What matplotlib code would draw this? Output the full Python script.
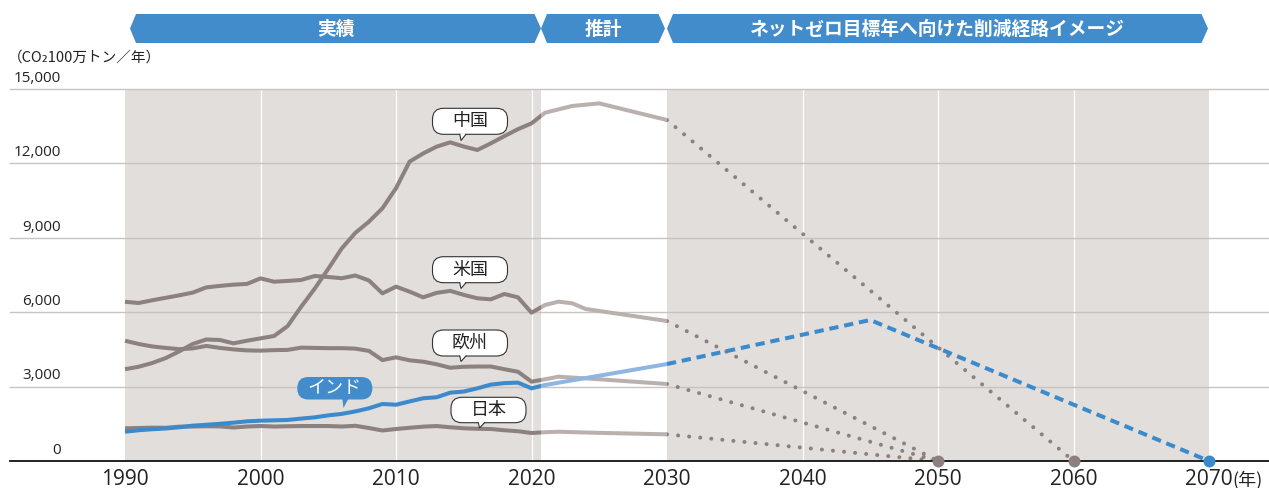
import matplotlib
matplotlib.use("Agg")
import matplotlib.pyplot as plt
from matplotlib.patches import Polygon, FancyBboxPatch, Rectangle
import numpy as np

# ---------------- data ----------------
years_hist = list(range(1990, 2022))
china_hist = [3700, 3800, 3950, 4150, 4420, 4720, 4900, 4880, 4745, 4850,
              4945, 5040, 5440, 6220, 6950, 7750, 8575, 9200, 9650, 10190,
              11000, 12070, 12400, 12675, 12850, 12680, 12540, 12810, 13100, 13380,
              13615, 14045]
usa_hist = [6420, 6370, 6480, 6580, 6680, 6790, 7000, 7060, 7110, 7140,
            7365, 7230, 7260, 7300, 7460, 7420, 7370, 7480, 7280, 6760,
            7030, 6830, 6600, 6780, 6860, 6700, 6560, 6520, 6735, 6600,
            5980, 6290]
europe_hist = [4850, 4720, 4620, 4560, 4510, 4540, 4640, 4560, 4500, 4460,
               4450, 4470, 4480, 4570, 4560, 4550, 4550, 4530, 4440, 4070,
               4180, 4060, 4005, 3900, 3760, 3800, 3810, 3810, 3700, 3600,
               3200, 3295]
japan_hist = [1318, 1330, 1345, 1340, 1385, 1390, 1400, 1395, 1350, 1390,
              1410, 1390, 1400, 1410, 1410, 1410, 1390, 1420, 1330, 1230,
              1290, 1340, 1385, 1410, 1360, 1320, 1300, 1290, 1240, 1200,
              1130, 1160]
india_hist = [1180, 1240, 1280, 1310, 1360, 1425, 1460, 1500, 1545, 1600,
              1625, 1640, 1655, 1710, 1760, 1840, 1900, 2000, 2125, 2300,
              2270, 2400, 2530, 2570, 2755, 2800, 2930, 3080, 3140, 3160,
              2930, 3065]

china_proj_years = [2021, 2023, 2025, 2030]
china_proj = [14045, 14315, 14420, 13750]
usa_proj_years = [2021, 2022, 2023, 2024, 2030]
usa_proj = [6290, 6425, 6360, 6130, 5645]
europe_proj_years = [2021, 2022, 2025, 2030]
europe_proj = [3295, 3400, 3295, 3105]
japan_proj_years = [2021, 2022, 2025, 2030]
japan_proj = [1160, 1180, 1135, 1075]
india_proj_years = [2021, 2025, 2030]
india_proj = [3065, 3440, 3910]

netzero_china = 2060
netzero_usa = 2050
netzero_europe = 2050
netzero_japan = 2050
india_path_years = [2030, 2045, 2070]
india_path = [3910, 5685, 0]

x_ticks = [1990, 2000, 2010, 2020, 2030, 2040, 2050, 2060, 2070]
x_tick_labels = ["1990", "2000", "2010", "2020", "2030", "2040", "2050", "2060", "2070"]
y_ticks = [0, 3000, 6000, 9000, 12000, 15000]
y_tick_labels = ["0", "3,000", "6,000", "9,000", "12,000", "15,000"]

banner_labels = ["実績", "推計", "ネットゼロ目標年へ向けた削減経路イメージ"]
unit_label = "（CO₂100万トン／年）"
year_suffix = "(年)"

# ---------------- style ----------------
W, H = 1269, 488
SHADE = "#e2dedc"
GRID = "#c9c2bf"
DARK = "#8c817e"
LIGHT = "#bab1af"
BLUE = "#3b8acb"
LBLUE = "#8fb6e2"
BANNER = "#438ccb"
NUM_FONT = ["Open Sans", "DejaVu Sans"]
CJK_FONT = ["Noto Sans CJK JP", "DejaVu Sans"]
SPLIT = 2020.7

fig = plt.figure(figsize=(W / 100, H / 100), dpi=100)
ax = fig.add_axes([10 / W, 27 / H, 1259 / W, 372 / H])
px_per_year = 13.55
x_left = 2020 - (531.5 - 10) / px_per_year
x_right = 2020 + (W - 531.5) / px_per_year
ax.set_xlim(x_left, x_right)
ax.set_ylim(0, 15000)
for s in ["top", "right", "left"]:
    ax.spines[s].set_visible(False)
ax.spines["bottom"].set_color("#111111")
ax.spines["bottom"].set_linewidth(1.3)
ax.spines["bottom"].set_zorder(5)
ax.set_xticks([])
ax.set_yticks([])

# shading
ax.axvspan(1990, SPLIT, color=SHADE, lw=0, zorder=0.5)
ax.axvspan(2030, 2070, color=SHADE, lw=0, zorder=0.5)
# vertical white grid
for xv in [2000, 2010, 2020, 2040, 2050, 2060]:
    ax.plot([xv, xv], [0, 15000], color="white", lw=0.9, zorder=1)
# horizontal grid
for yv in y_ticks[1:]:
    ax.axhline(yv, color=GRID, lw=1.0, zorder=1.2, clip_on=False)

lw = 2.9
def series(hist, pyears, pvals, dark, light, z):
    xs = years_hist + pyears[1:]
    ys = hist + pvals[1:]
    l1, = ax.plot(xs, ys, color=dark, lw=lw, zorder=z, solid_joinstyle="round", solid_capstyle="butt")
    l1.set_clip_path(Rectangle((x_left, -1e5), SPLIT - x_left, 3e5, transform=ax.transData))
    l2, = ax.plot(xs, ys, color=light, lw=lw, zorder=z, solid_joinstyle="round", solid_capstyle="butt")
    l2.set_clip_path(Rectangle((SPLIT, -1e5), 100, 3e5, transform=ax.transData))

dot_style = dict(color=DARK, lw=2.9, dashes=(0.01, 2.75), dash_capstyle="round", zorder=3)
for pyears, pvals, nz in [(china_proj_years, china_proj, netzero_china),
                          (usa_proj_years, usa_proj, netzero_usa),
                          (europe_proj_years, europe_proj, netzero_europe),
                          (japan_proj_years, japan_proj, netzero_japan)]:
    ax.plot([pyears[-1], nz], [pvals[-1], 0], **dot_style)

series(china_hist, china_proj_years, china_proj, DARK, LIGHT, 3.5)
series(usa_hist, usa_proj_years, usa_proj, DARK, LIGHT, 3.5)
series(europe_hist, europe_proj_years, europe_proj, DARK, LIGHT, 3.5)
series(japan_hist, japan_proj_years, japan_proj, DARK, LIGHT, 3.5)
series(india_hist, india_proj_years, india_proj, BLUE, LBLUE, 4)

ax.plot(india_path_years, india_path, color=BLUE, lw=2.9, dashes=(2.3, 1.45),
        dash_capstyle="butt", zorder=4)

for nz, c in [(netzero_usa, DARK), (netzero_china, DARK), (india_path_years[-1], BLUE)]:
    ax.plot([nz], [0], "o", ms=8.6, color=c, mec="none", zorder=6, clip_on=False)

# y tick labels
for v, lab in zip(y_ticks, y_tick_labels):
    ax.annotate(lab, xy=(0, v), xycoords=ax.get_yaxis_transform(),
                xytext=(51 * 0.72, 5.2), textcoords="offset points",
                ha="right", va="baseline", fontsize=11, color="#222222",
                family=NUM_FONT, annotation_clip=False)
# x tick labels
for v, lab in zip(x_ticks, x_tick_labels):
    ax.annotate(lab, xy=(v, 0), xycoords=ax.get_xaxis_transform(),
                xytext=(0, -17.5), textcoords="offset points",
                ha="center", va="baseline", fontsize=15, color="#222222",
                family=NUM_FONT, annotation_clip=False)
ax.annotate(year_suffix, xy=(x_ticks[-1], 0), xycoords=ax.get_xaxis_transform(),
            xytext=(16.5, -17.5), textcoords="offset points",
            ha="left", va="baseline", fontsize=13, color="#222222",
            family=CJK_FONT, annotation_clip=False)

# ---------------- overlay (pixel coordinates) ----------------
ov = fig.add_axes([0, 0, 1, 1], zorder=10)
ov.set_xlim(0, W)
ov.set_ylim(H, 0)
ov.axis("off")

ov.text(8, 58, unit_label, ha="left", va="center", fontsize=10.5,
        color="#222222", family=CJK_FONT)

# banner
yt, ym, yb = 14, 28.5, 43
segments = [(130, 541), (541, 665), (667, 1208)]
for (a, b), lab in zip(segments, banner_labels):
    ov.add_patch(Polygon([(a, ym), (a + 6, yt), (b - 6.5, yt), (b, ym), (b - 6.5, yb), (a + 6, yb)],
                         closed=True, fc=BANNER, ec="none"))
    ov.text((a + b) / 2, ym + 0.5, lab, ha="center", va="center", color="white",
            fontsize=13.5, fontweight="bold", family=CJK_FONT)

def callout(x0, x1, y0, y1, tip, text, face, edge, tcolor):
    ov.add_patch(FancyBboxPatch((x0, y0), x1 - x0, y1 - y0,
                                boxstyle="round,pad=0,rounding_size=11",
                                fc=face, ec=edge, lw=0.8, zorder=5))
    tx, ty = tip
    ov.add_patch(Polygon([(tx - 1.2, y1 - 1), (tx + 5, y1 - 1), (tx, ty)], closed=True,
                         fc=face, ec="none", zorder=6))
    if edge != "none":
        ov.plot([tx - 1.2, tx, tx + 5], [y1, ty, y1], color=edge, lw=0.8, zorder=7,
                solid_joinstyle="miter")
    ov.text((x0 + x1) / 2, (y0 + y1) / 2, text, ha="center", va="center",
            fontsize=13, color=tcolor, family=CJK_FONT, zorder=8)

callout(432.5, 507.5, 108.3, 134.3, (461, 140.5), "中国", "white", "#333333", "#222222")
callout(432.5, 507.5, 256.7, 282.7, (461, 288.5), "米国", "white", "#333333", "#222222")
callout(432.5, 507.5, 330.0, 356.0, (461, 361.5), "欧州", "white", "#333333", "#222222")
callout(451.0, 526.0, 397.3, 422.7, (479.5, 428.0), "日本", "white", "#333333", "#222222")
callout(297.3, 372.3, 377.0, 399.5, (343.5, 408.0), "インド", BANNER, "none", "white")

fig.savefig("out.png", dpi=100)
